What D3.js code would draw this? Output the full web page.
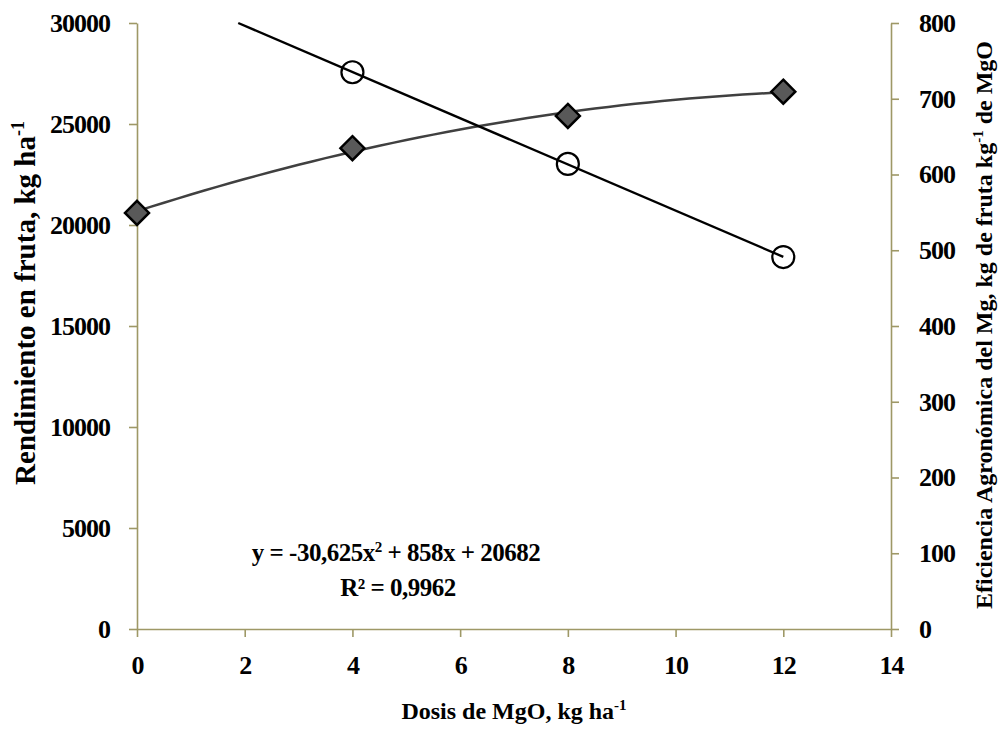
<!DOCTYPE html>
<html lang="es">
  <head>
    <meta charset="UTF-8" />
    <title>Rendimiento y eficiencia del MgO</title>
    <script src="https://d3js.org/d3.v7.min.js"></script>
    <style>
      body {
        margin: 0;
        background: #fff;
      }
      svg text {
        font-family: "Liberation Serif", "DejaVu Serif", serif;
        font-weight: bold;
        fill: #000;
      }
      .axis path,
      .axis line {
        stroke: #9e9866;
        stroke-width: 1.6;
      }
      .axis text {
        font-size: 26px;
        letter-spacing: -1px;
      }
    </style>
  </head>
  <body>
    <div id="chart"></div>
    <script>
      // datos
      const doses = [0, 4, 8, 12];
      const yieldValues = [20600, 23800, 25400, 26600];
      const effDoses = [4, 8, 12];
      const effValues = [735, 614, 491];
      // coeficientes de la ecuacion mostrada (y = a x^2 + b x + c)
      const quadCoef = [-30.625, 858, 20682];
      const xTicks = [0, 2, 4, 6, 8, 10, 12, 14];
      const leftTicks = [0, 5000, 10000, 15000, 20000, 25000, 30000];
      const rightTicks = [0, 100, 200, 300, 400, 500, 600, 700, 800];

      const W = 1001, H = 729;
      const margin = { top: 23, right: 110, bottom: 100, left: 137 };
      const width = W - margin.left - margin.right,
        height = H - margin.top - margin.bottom;

      const svg = d3
        .select("#chart")
        .append("svg")
        .attr("width", W)
        .attr("height", H);

      const g = svg
        .append("g")
        .attr("transform", `translate(${margin.left},${margin.top})`);

      const x = d3.scaleLinear().domain([0, 14]).range([0, width]);
      const yL = d3.scaleLinear().domain([0, 30000]).range([height, 0]);
      const yR = d3.scaleLinear().domain([0, 800]).range([height, 0]);

      // ejes
      g.append("g")
        .attr("class", "axis")
        .call(d3.axisLeft(yL).tickValues(leftTicks).tickFormat(d3.format("d"))
          .tickSize(8).tickSizeOuter(0).tickPadding(19));

      g.append("g")
        .attr("class", "axis")
        .attr("transform", `translate(${width},0)`)
        .call(d3.axisRight(yR).tickValues(rightTicks).tickFormat(d3.format("d"))
          .tickSize(8).tickSizeOuter(0).tickPadding(20));

      g.append("g")
        .attr("class", "axis")
        .attr("transform", `translate(0,${height})`)
        .call(d3.axisBottom(x).tickValues(xTicks).tickFormat(d3.format("d"))
          .tickSize(8).tickSizeOuter(0).tickPadding(19));

      // linea de tendencia cuadratica (rendimiento)
      const quad = (v) => quadCoef[0] * v * v + quadCoef[1] * v + quadCoef[2];
      const curvePts = d3.range(0, 12.01, 0.25).map((v) => [v, quad(v)]);
      g.append("path")
        .datum(curvePts)
        .attr("fill", "none")
        .attr("stroke", "#404040")
        .attr("stroke-width", 2.5)
        .attr("d", d3.line().x((d) => x(d[0])).y((d) => yL(d[1])));

      // tendencia lineal (eficiencia), recortada al area del grafico
      const mx = d3.mean(effDoses), my = d3.mean(effValues);
      const slope =
        d3.sum(effDoses, (d, i) => (d - mx) * (effValues[i] - my)) /
        d3.sum(effDoses, (d) => (d - mx) * (d - mx));
      const icpt = my - slope * mx;
      const xStart = Math.max(0, (800 - icpt) / slope);
      g.append("line")
        .attr("x1", x(xStart))
        .attr("y1", yR(icpt + slope * xStart))
        .attr("x2", x(12))
        .attr("y2", yR(icpt + slope * 12))
        .attr("stroke", "#000")
        .attr("stroke-width", 2.4);

      // rombos
      g.selectAll(".diamond")
        .data(doses)
        .enter()
        .append("path")
        .attr("class", "diamond")
        .attr("d", "M0,-12L12,0L0,12L-12,0Z")
        .attr("transform", (d, i) => `translate(${x(d)},${yL(yieldValues[i])})`)
        .attr("fill", "#595959")
        .attr("stroke", "#000")
        .attr("stroke-width", 2.5);

      // circulos
      g.selectAll(".circ")
        .data(effDoses)
        .enter()
        .append("circle")
        .attr("class", "circ")
        .attr("cx", (d) => x(d))
        .attr("cy", (d, i) => yR(effValues[i]))
        .attr("r", 11)
        .attr("fill", "none")
        .attr("stroke", "#000")
        .attr("stroke-width", 2.2);

      // ecuacion
      const eq = svg.append("text")
        .attr("x", 396)
        .attr("y", 561)
        .attr("text-anchor", "middle")
        .style("font-size", "25px")
        .style("letter-spacing", "-0.5px");
      eq.append("tspan").text("y = -30,625x");
      eq.append("tspan").attr("dy", -9).style("font-size", "15px").text("2");
      eq.append("tspan").attr("dy", 9).text(" + 858x + 20682");

      svg.append("text")
        .attr("x", 398)
        .attr("y", 596)
        .attr("text-anchor", "middle")
        .style("font-size", "25px")
        .style("letter-spacing", "-0.5px")
        .text("R² = 0,9962");

      // titulos de ejes
      const xt = svg.append("text")
        .attr("x", 514)
        .attr("y", 719)
        .attr("text-anchor", "middle")
        .style("font-size", "24px");
      xt.append("tspan").text("Dosis de MgO, kg ha");
      xt.append("tspan").attr("dy", -9).style("font-size", "15px").text("-1");

      const lt = svg.append("text")
        .attr("transform", "translate(35,303) rotate(-90)")
        .attr("text-anchor", "middle")
        .style("font-size", "29px");
      lt.append("tspan").text("Rendimiento en fruta, kg ha");
      lt.append("tspan").attr("dy", -11).style("font-size", "18px").text("-1");

      const rt = svg.append("text")
        .attr("transform", "translate(992,325) rotate(-90)")
        .attr("text-anchor", "middle")
        .style("font-size", "24px");
      rt.append("tspan").text("Eficiencia Agronómica del Mg, kg de fruta kg");
      rt.append("tspan").attr("dy", -9).style("font-size", "15px").text("-1");
      rt.append("tspan").attr("dy", 9).text(" de MgO");
    </script>
  </body>
</html>
